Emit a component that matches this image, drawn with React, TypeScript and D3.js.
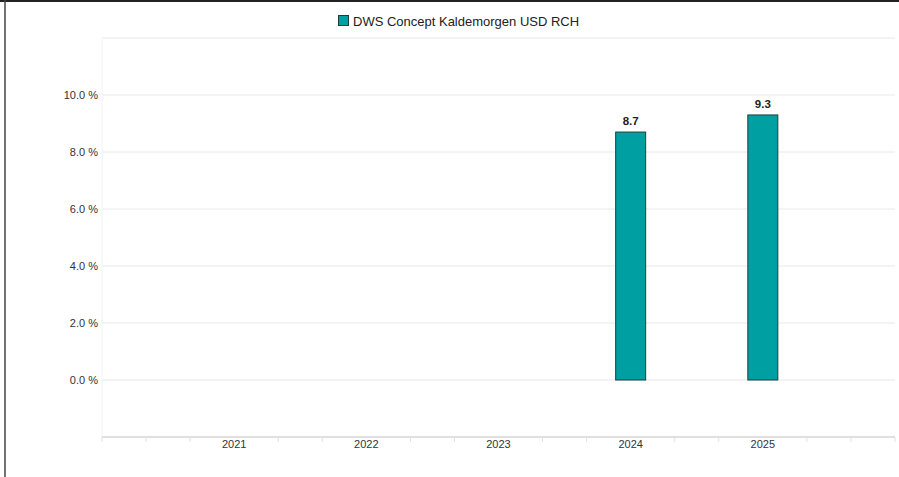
// Annual performance bar chart with d3 scales.

import * as d3 from "d3";

const years = [2021, 2022, 2023, 2024, 2025];
const returns: (number | null)[] = [null, null, null, 8.7, 9.3];
const yTicks = [0, 2, 4, 6, 8, 10];
const gridTicks = [-2, 0, 2, 4, 6, 8, 10, 12];
const seriesName = "DWS Concept Kaldemorgen USD RCH";

const FONT = "'Liberation Sans', Arial, sans-serif";
const TEAL = "#00a0a2";

export default function App() {
  const width = 899;
  const height = 477;
  const [marginTop, marginRight, marginBottom, marginLeft] = [38, 4, 40, 102];

  const scaleX = d3.scaleLinear(
    [2020, 2026],
    [marginLeft, width - marginRight],
  );
  const scaleY = d3.scaleLinear([-2, 12], [height - marginBottom, marginTop]);

  // minor ticks every third of a year, but not under the year labels
  const minorTicks = d3
    .range(0, 19)
    .map((k) => 2020 + k / 3)
    .filter((_, k) => k % 3 !== 0 || k === 0 || k === 18);

  const barWidth = 30;

  return (
    <div style={{ position: "fixed", left: 0, top: 0 }}>
      <svg width={width} height={height} style={{ display: "block" }}>
        <rect width={width} height={height} fill="white" />
        {/* frame */}
        <line x1={0} x2={width} y1={1} y2={1} stroke="#222" strokeWidth={2} />
        <line x1={5} x2={5} y1={0} y2={height} stroke="#444" strokeWidth={1.5} />

        {/* legend */}
        <g fontFamily={FONT} fontSize={13} fill="#222">
          <rect x={338.5} y={15.5} width={10} height={10} fill={TEAL} stroke="#1f3c3c" />
          <text x={353} y={25.5}>{seriesName}</text>
        </g>

        {/* gridlines */}
        <g stroke="#e8e8e8" strokeWidth={1}>
          {gridTicks
            .filter((t) => t !== -2)
            .map((t) => (
              <line
                key={t}
                x1={marginLeft}
                x2={width - marginRight}
                y1={scaleY(t)}
                y2={scaleY(t)}
              />
            ))}
          <line
            x1={marginLeft}
            x2={marginLeft}
            y1={scaleY(12)}
            y2={scaleY(-2)}
            stroke="#f2f2f2"
          />
        </g>

        {/* y labels */}
        <g fontFamily={FONT} fontSize={11} fill="#333" textAnchor="end">
          {yTicks.map((t) => (
            <text key={t} x={marginLeft - 4} y={scaleY(t) + 4}>
              {`${t.toFixed(1)} %`}
            </text>
          ))}
        </g>

        {/* x axis */}
        <line
          x1={marginLeft}
          x2={width - marginRight}
          y1={scaleY(-2)}
          y2={scaleY(-2)}
          stroke="#e0e0e0"
          strokeWidth={2}
        />
        <g stroke="#e0e0e0" strokeWidth={1}>
          {minorTicks.map((t, i) => (
            <line
              key={i}
              x1={scaleX(t)}
              x2={scaleX(t)}
              y1={scaleY(-2)}
              y2={scaleY(-2) + 5}
            />
          ))}
        </g>
        <g fontFamily={FONT} fontSize={11} fill="#333" textAnchor="middle">
          {years.map((yr) => (
            <text key={yr} x={scaleX(yr)} y={scaleY(-2) + 11}>
              {yr}
            </text>
          ))}
        </g>

        {/* bars */}
        {years.map((yr, i) => {
          const v = returns[i];
          if (v == null) return null;
          return (
            <g key={yr}>
              <rect
                x={scaleX(yr) - barWidth / 2}
                y={scaleY(v)}
                width={barWidth}
                height={scaleY(0) - scaleY(v)}
                fill={TEAL}
                stroke="#1f3c3c"
                strokeWidth={1}
              />
              <text
                x={scaleX(yr)}
                y={scaleY(v) - 7}
                textAnchor="middle"
                fontFamily={FONT}
                fontSize={11.5}
                fontWeight="bold"
                fill="#222"
              >
                {v.toFixed(1)}
              </text>
            </g>
          );
        })}
      </svg>
    </div>
  );
}
